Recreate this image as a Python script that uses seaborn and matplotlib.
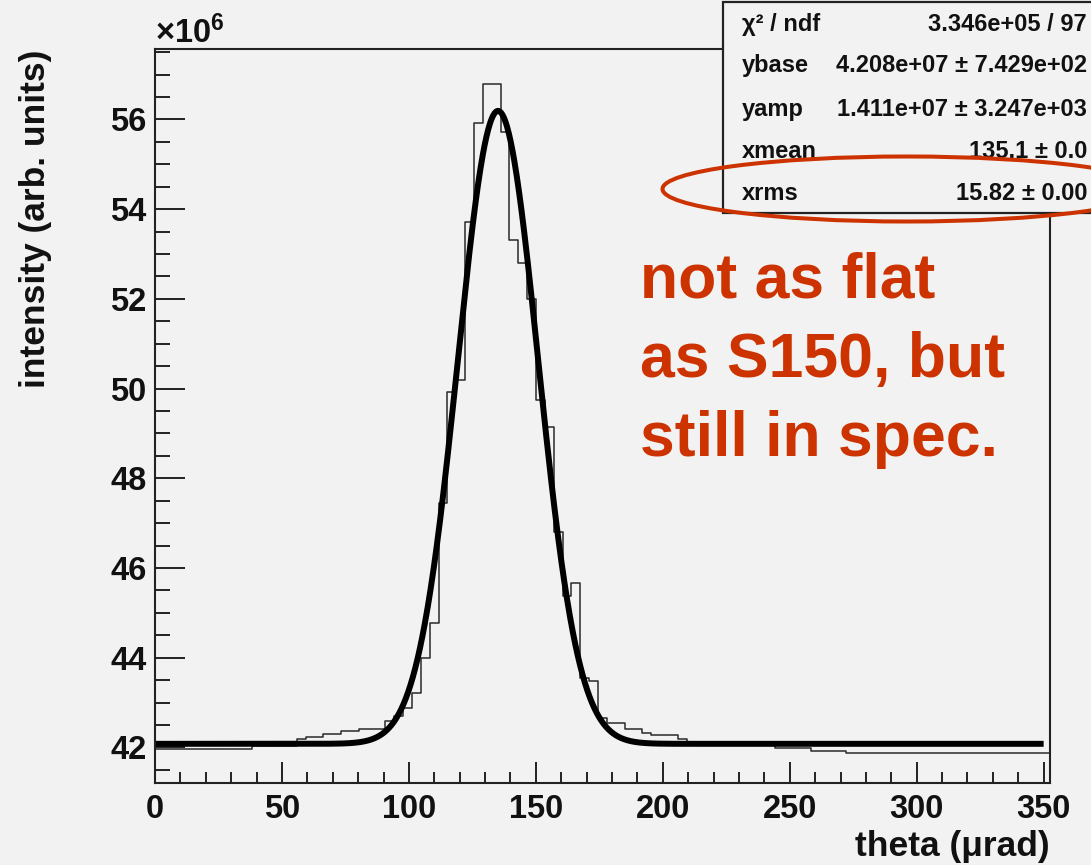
import numpy as np
import pandas as pd
import matplotlib
matplotlib.use("Agg")
import matplotlib.pyplot as plt
import seaborn as sns
from matplotlib.patches import Ellipse, Rectangle
from matplotlib.ticker import MultipleLocator

# ---------------- data ----------------
theta_min = 0.0
theta_max = 352.5
n_bins = 101

# histogram contents, units of 1e6, bins 0..100
hist_values = [
    41.97, 41.97, 41.97, 41.97, 41.97, 41.97, 41.97, 41.97, 41.97, 41.97, 41.97,
    42.04, 42.04, 42.04, 42.04, 42.04,
    42.19, 42.24, 42.24, 42.29, 42.29, 42.36, 42.36, 42.41, 42.41, 42.41,
    42.58, 42.69, 42.88, 43.22, 44.00, 44.78, 47.45, 49.93, 50.19, 53.72,
    55.92, 56.80, 56.80, 55.72, 53.31, 52.79, 52.00, 49.75, 49.15, 46.80,
    45.37, 45.67, 43.55, 43.47, 42.66, 42.55, 42.55, 42.41, 42.41, 42.32,
    42.27, 42.27, 42.27, 42.18,
    42.08, 42.08, 42.08, 42.08, 42.08, 42.08, 42.08, 42.08, 42.08, 42.08,
    41.98, 41.98, 41.98, 41.98,
    41.93, 41.93, 41.93, 41.93,
    41.87, 41.87, 41.87, 41.87, 41.87, 41.87, 41.87, 41.87, 41.87, 41.87,
    41.87, 41.87, 41.87, 41.87, 41.87, 41.87, 41.87, 41.87, 41.87, 41.87,
    41.87, 41.87, 41.87,
]

# fit parameters shown in the stats box
ybase = 4.208e7
yamp = 1.411e7
xmean = 135.1
xrms = 15.82
fit_range = (0.0, 350.0)

stat_labels = ["χ² / ndf", "ybase", "yamp", "xmean", "xrms"]
stat_values = ["3.346e+05 / 97", "4.208e+07 ± 7.429e+02", "1.411e+07 ± 3.247e+03",
               "135.1 ± 0.0", "15.82 ± 0.00"]

x_ticks_major = 50
x_ticks_minor = 10
y_ticks_major = 2
y_ticks_minor = 0.5
y_range = (41.2, 57.57)

note_lines = ["not as flat", "as S150, but", "still in spec."]

# ---------------- style ----------------
sns.set_style("ticks")
plt.rcParams["font.family"] = ["Liberation Sans", "DejaVu Sans"]
plt.rcParams["font.weight"] = "bold"
plt.rcParams["text.color"] = "#111111"
plt.rcParams["axes.labelcolor"] = "#111111"
plt.rcParams["xtick.color"] = "#111111"
plt.rcParams["ytick.color"] = "#111111"
plt.rcParams["mathtext.fontset"] = "custom"
plt.rcParams["mathtext.rm"] = "Liberation Sans:bold"
plt.rcParams["mathtext.bf"] = "Liberation Sans:bold"
plt.rcParams["mathtext.it"] = "Liberation Sans:bold"

BG = "#f2f2f2"
RED = "#cc3300"
INK = "#111111"
W, H = 1091, 865

fig = plt.figure(figsize=(W / 100, H / 100), dpi=100, facecolor=BG)
ax = fig.add_axes([155 / W, (H - 783.3) / H, (1050 - 155) / W, (783.3 - 49) / H])
ax.set_facecolor(BG)

edges = np.linspace(theta_min, theta_max, n_bins + 1)
centers = 0.5 * (edges[:-1] + edges[1:])
hist_df = pd.DataFrame({"theta": centers, "intensity": hist_values})
sns.histplot(data=hist_df, x="theta", weights="intensity", bins=list(edges),
             element="step", fill=False, color="#2a2a2a", linewidth=1.1, ax=ax)

theta_fit = np.linspace(fit_range[0], fit_range[1], 1500)
fit_vals = (ybase + yamp * np.exp(-0.5 * ((theta_fit - xmean) / xrms) ** 2)) / 1e6
sns.lineplot(x=theta_fit, y=fit_vals, color="black", linewidth=4.3, ax=ax,
             solid_capstyle="butt")

ax.set_xlim(theta_min, theta_max)
ax.set_ylim(*y_range)
ax.xaxis.set_major_locator(MultipleLocator(x_ticks_major))
ax.xaxis.set_minor_locator(MultipleLocator(x_ticks_minor))
ax.yaxis.set_major_locator(MultipleLocator(y_ticks_major))
ax.yaxis.set_minor_locator(MultipleLocator(y_ticks_minor))

ax.tick_params(axis="y", which="major", direction="in", length=21.6, width=1.4,
               color="#222222", labelcolor=INK, labelsize=23.5, pad=6,
               left=True, right=False)
ax.tick_params(axis="y", which="minor", direction="in", length=10.8, width=1.4,
               color="#222222", left=True, right=False)
ax.tick_params(axis="x", which="major", direction="in", length=14.9, width=1.4,
               color="#222222", labelcolor=INK, labelsize=23.5, pad=8,
               bottom=True, top=False)
ax.tick_params(axis="x", which="minor", direction="in", length=7.7, width=1.4,
               color="#222222", bottom=True, top=False)
for lab in ax.get_xticklabels() + ax.get_yticklabels():
    lab.set_fontweight("bold")
for sp in ax.spines.values():
    sp.set_visible(True)
    sp.set_linewidth(1.5)
    sp.set_color("#222222")

ax.set_xlabel("theta (μrad)", fontsize=25.5, fontweight="bold", loc="right",
              labelpad=3, color=INK)
ax.set_ylabel("intensity (arb. units)", fontsize=25.5, fontweight="bold", loc="top",
              color=INK)
ax.yaxis.set_label_coords(-0.115, 0.999)

ax.annotate(r"$\times$10$^{6}$", xy=(0, 1), xycoords="axes fraction",
            xytext=(0, 4.5), textcoords="offset points", ha="left", va="baseline",
            fontsize=23.5, color=INK)

# stats box
box = Rectangle((723.3 / W, (H - 213) / H), (1100 - 723.3) / W, (213 - 1.5) / H,
                transform=fig.transFigure, facecolor=BG, edgecolor="#222222",
                linewidth=1.6, zorder=5, clip_on=False)
fig.add_artist(box)
row_baselines = [31, 72, 116, 158.5, 200]
for lbl, val, yb in zip(stat_labels, stat_values, row_baselines):
    fig.text(741.7 / W, (H - yb) / H, lbl, ha="left", va="baseline", fontsize=17,
             fontweight="bold", color=INK, zorder=6)
    fig.text(1087 / W, (H - yb) / H, val, ha="right", va="baseline", fontsize=17,
             fontweight="bold", color=INK, zorder=6)

# red annotation
ell = Ellipse((907 / W, (H - 189) / H), 489 / W, 65 / H, transform=fig.transFigure,
              fill=False, edgecolor=RED, linewidth=2.9, zorder=7, clip_on=False)
fig.add_artist(ell)
for line, yb in zip(note_lines, [297, 377, 456]):
    fig.text(640 / W, (H - yb) / H, line, ha="left", va="baseline", fontsize=45,
             fontweight="bold", color=RED, zorder=7)

fig.savefig("out.png", dpi=100, facecolor=BG)
